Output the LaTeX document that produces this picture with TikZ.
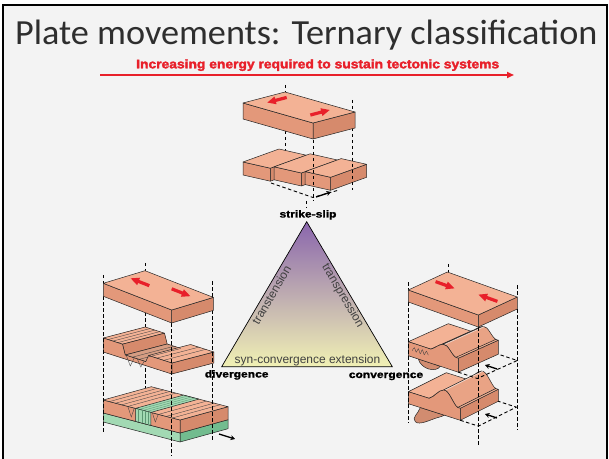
\documentclass[tikz,border=0pt]{standalone}
\usepackage{fontspec}
\setmainfont{Liberation Sans}
\newfontfamily\titlefont{Carlito}
\newfontfamily\heavyfont[BoldFeatures={FakeBold=2.2}]{Liberation Sans}
\newfontfamily\labfont[BoldFeatures={FakeBold=1.2}]{Liberation Sans}
\usepackage{graphicx}
\usetikzlibrary{arrows.meta}
\definecolor{topc}{HTML}{F3B295}
\definecolor{frontc}{HTML}{E3987A}
\definecolor{sidec}{HTML}{D68A6C}
\definecolor{ridgeL}{HTML}{F8C6AE}
\definecolor{ridgeR}{HTML}{E9A385}
\definecolor{arrred}{HTML}{E8202A}
\definecolor{greenc}{HTML}{A2D9B3}
\definecolor{greend}{HTML}{72BC8F}
\definecolor{triT}{HTML}{8A66AD}
\definecolor{triB}{HTML}{F1F1B4}
\definecolor{bg}{HTML}{F3F3F3}
\tikzset{
  face/.style={draw=black!85,line width=0.5bp,line join=round},
  fline/.style={draw=black!75,line width=0.35bp},
  dline/.style={draw=black,line width=0.9bp,dash pattern=on 3.5bp off 2.5bp},
  blackarr/.style={draw=black,line width=1.3bp,-{Stealth[length=4.5bp,width=5bp]}},
  redarr/.pic={\fill[arrred] (-10,-2) -- (1.5,-2) -- (1.5,-5) -- (10,0) -- (1.5,5) -- (1.5,2) -- (-10,2) -- cycle;},
  blab/.style={inner sep=0,anchor=base,font=\fontsize{11}{12}\selectfont\labfont\bfseries},
  rlab/.style={inner sep=0,font=\fontsize{12}{13}\selectfont,text=black!75}
}
% origin x,y ; long edge a ; short edge b ; thickness h
\newcommand{\slab}[7]{%
  \filldraw[face,fill=sidec] (#1+#3,#2+#4) -- ++(#5,#6) -- ++(0,#7) -- (#1+#3,#2+#4+#7) -- cycle;
  \filldraw[face,fill=frontc] (#1,#2) -- ++(#3,#4) -- ++(0,#7) -- (#1,#2+#7) -- cycle;
  \filldraw[face,fill=topc] (#1,#2) -- ++(#3,#4) -- ++(#5,#6) -- (#1+#5,#2+#6) -- cycle;
}
\newcommand{\blabtext}[1]{\scalebox{1.1}[0.92]{#1}}
\begin{document}
\begin{tikzpicture}[x=1bp,y=-1bp]
\useasboundingbox (0,0) rectangle (609,459);
\fill[white] (0,0) rectangle (609,459);
\fill[bg] (3,5) rectangle (607,459);
\draw[line width=2.5bp] (3,459) -- (3,5) -- (607,5) -- (607,459);

% title and energy arrow
\node[anchor=base west,inner sep=0,text=black!82] (title) at (15,45)
  {\resizebox{582bp}{24.5bp}{\titlefont Plate movements: Ternary classification}};
\node[anchor=base west,inner sep=0,text=arrred] (energy) at (136,68.3)
  {\resizebox{363bp}{9bp}{\heavyfont\bfseries Increasing energy required to sustain tectonic systems}};
\coordinate (ea) at (100,75);
\coordinate (eb) at (514,75);
\draw[arrred,line width=2bp,-{Triangle[length=7bp,width=6bp]}] (ea) -- (eb);

% ===== triangle =====
\coordinate (tA) at (306.7,221.7);
\coordinate (tL) at (221.7,366.7);
\coordinate (tR) at (392.3,366.7);
\shade[top color=triT,bottom color=triB,draw=black,line width=0.7bp] (tA) -- (tR) -- (tL) -- cycle;
\node[blab] (ss) at (308,217.5) {\blabtext{strike-slip}};
\node[blab] (dv) at (236.7,377.5) {\blabtext{divergence}};
\node[blab] (cv) at (386,378) {\blabtext{convergence}};
\node[rlab,anchor=base] (syn) at (307.5,363.5) {syn-convergence extension};
\node[rlab,rotate=59.6] (tt) at (271.5,295) {transtension};
\node[rlab,rotate=-59.6] (tp) at (342.6,295.8) {transpression};

% ===== strike-slip column =====
\draw[dline] (285,85) -- (285,92);
\draw[dline] (285,131) -- (285,157);
\slab{243}{162}{27.3}{6.2}{36}{-13}{13}
\slab{274.1}{166.8}{27.3}{6.2}{36}{-13}{13}
\slab{305.2}{171.6}{25.4}{5.7}{36}{-13}{13}
\draw[dline] (271,183) -- (313,197.5) -- (339,190);
\draw[blackarr] (316,197) -- (331,192);
\draw[dline] (313,140) -- (313,201);
\draw[dline] (306.7,201) -- (306.7,208);
\draw[dline] (352,100) -- (352,112);
\draw[dline] (352,128) -- (352,190);
\slab{243}{103}{70}{20}{42}{-11}{16}
\pic[rotate=194.7,yscale=.8] at (277,100) {redarr};
\pic[rotate=14.7,yscale=.8] at (320,112.5) {redarr};

% ===== divergence column =====
\draw[dline] (145,263) -- (145,271);
\draw[dline] (145,306) -- (145,330);
\draw[dline] (145,362) -- (145,392);
% bottom block with green base
\begin{scope}[shift={(103.3,400)}]
  \filldraw[face,fill=greend] (76.7,33) -- (124.7,19.7) -- (124.7,28.7) -- (76.7,42) -- cycle;
  \filldraw[face,fill=greenc] (0,13) -- (76.7,33) -- (76.7,42) -- (0,22) -- cycle;
  \slab{0}{0}{76.7}{20}{48}{-13.3}{13}
  \filldraw[face,fill=greenc] (32.2,8.4) -- (47.6,12.4) -- (95.6,-0.9) -- (80.2,-4.9) -- cycle;
  \filldraw[face,fill=greenc] (32.2,8.4) -- (47.6,12.4) -- (47.6,25.4) -- (32.2,21.4) -- cycle;
  \foreach \t in {0.47,0.52,0.57} \draw[fline,draw=greend!80!black] (76.7*\t,20*\t) -- ++(48,-13.3);
  \foreach \x in {35,38.5,42,45} \draw[fline,draw=greend!80!black] (\x,{20/76.7*\x}) -- ++(0,13);
  \foreach \t in {0.08,0.16,0.24,0.32,0.72,0.82,0.9} \draw[fline] (76.7*\t,20*\t) -- ++(48,-13.3);
  \draw[fline] (24.5,6.4) -- (28,17) -- (31,8.1);
  \draw[fline] (49,12.8) -- (52,22) -- (55,14.3);
\end{scope}
% middle rifted block
\begin{scope}[shift={(103.3,338)}]
  \fill[frontc] (0,0) -- (42,-11) -- (61.2,-4.8) -- (63.9,6) -- (84.5,12.6) -- (87.2,6.5) -- (110.5,14) -- (110.5,25) -- (68.5,36) -- (0,14) -- cycle;
  \filldraw[face,fill=sidec] (68.5,25) -- (110.5,14) -- (110.5,25) -- (68.5,36) -- cycle;
  \filldraw[face,fill=topc] (0,0) -- (19.2,6.2) -- (61.2,-4.8) -- (42,-11) -- cycle;
  \filldraw[face,fill=sidec] (19.2,6.2) -- (61.2,-4.8) -- (63.9,6) -- (21.9,17) -- cycle;
  \filldraw[face,fill=topc!88!black] (21.9,17) -- (63.9,6) -- (84.5,12.6) -- (42.5,23.6) -- cycle;
  \filldraw[face,fill=topc] (45.2,17.5) -- (68.5,25) -- (110.5,14) -- (87.2,6.5) -- cycle;
  \filldraw[face,fill=frontc] (0,0) -- (19.2,6.2) -- (21.9,17) -- (42.5,23.6) -- (45.2,17.5) -- (68.5,25) -- (68.5,36) -- (0,14) -- cycle;
  \foreach \t in {0.07,0.14,0.21} \draw[fline] (68.5*\t,22*\t) -- ++(42,-11);
  \foreach \t in {0.42,0.52} \draw[fline] (68.5*\t,22*\t+10) -- ++(42,-11);
  \foreach \t in {0.78,0.88} \draw[fline] (68.5*\t,22*\t+3) -- ++(42,-11);
  \draw[fline] (23,17.4) -- (27,28) -- (31,19.9);
  \draw[fline] (34,20.9) -- (37.5,29) -- (41,23.1);
\end{scope}
\draw[blackarr] (219,434) -- (235,439);
\draw[dline] (103.3,275) -- (103.3,283);
\draw[dline] (103.3,296) -- (103.3,432);
\draw[dline] (171.7,323) -- (171.7,456);
\draw[dline] (212.5,281) -- (212.5,297);
\draw[dline] (212.5,310) -- (212.5,440);
\slab{103.3}{283.3}{68.4}{26.7}{41.7}{-12.6}{13}
\pic[rotate=158.5,yscale=.8] at (140,282) {redarr};
\pic[rotate=-21.5,yscale=.8] at (181,292.5) {redarr};

% ===== convergence column =====
\draw[dline] (448,264) -- (448,272);
% bottom block
\begin{scope}[shift={(408.3,391.7)}]
  \filldraw[face,fill=frontc!92!black] (12,15.8) .. controls (10,22) and (3,26) .. (7,30) .. controls (11,34) and (22,28) .. (29,26) .. controls (33,25) and (35,24) .. (36,23.5) -- cycle;
  \filldraw[face,fill=sidec] (52,16.6) -- (90,-2.4) -- (90,9.6) -- (52,28.6) -- cycle;
  \filldraw[face,fill=topc] (0,0) -- (52,16.6) -- (90,-2.4) -- (38,-19) -- cycle;
  \filldraw[face,fill=ridgeL] (20.8,6.6) .. controls (26,5.5) and (30,-1.7) .. (35.4,-1.7) -- (73.4,-20.7) .. controls (68,-20.7) and (64,-13.5) .. (58.8,-12.4) -- cycle;
  \filldraw[face,fill=ridgeR] (35.4,-1.7) .. controls (41,-1.7) and (45,13) .. (49.4,15.8) -- (87.4,-3.2) .. controls (83,-6) and (79,-20.7) .. (73.4,-20.7) -- cycle;
  \draw[white,line width=.8bp,opacity=.6] (36.5,-1.5) -- (74.5,-20.5);
  \filldraw[face,fill=frontc] (0,0) -- (20.8,6.6) .. controls (26,5.5) and (30,-1.7) .. (35.4,-1.7) .. controls (41,-1.7) and (45,13) .. (49.4,15.8) -- (52,16.6) -- (52,28.6) -- (0,12) -- cycle;
\end{scope}
\draw[dline] (460.3,420.3) -- (478.3,426.1) -- (516.3,407.1) -- (498.3,401.3);
\draw[blackarr] (497,418) -- (485,414);
% middle block
\begin{scope}[shift={(408.3,341.7)}]
  \filldraw[face,fill=frontc!92!black] (10,17.3) .. controls (13,28) and (28,31) .. (32,24.6) -- cycle;
  \filldraw[face,fill=sidec] (50,16.5) -- (90,-1.5) -- (90,12.5) -- (50,30.5) -- cycle;
  \filldraw[face,fill=topc] (0,0) -- (50,16.5) -- (90,-1.5) -- (40,-18) -- cycle;
  \filldraw[face,fill=ridgeL] (22.5,7.4) .. controls (27,6.5) and (30,2.6) .. (35,2.6) -- (75,-15.4) .. controls (70,-15.4) and (67,-11.5) .. (62.5,-10.6) -- cycle;
  \filldraw[face,fill=ridgeR] (35,2.6) .. controls (40,2.6) and (43,13) .. (47.5,15.7) -- (87.5,-2.3) .. controls (83,-5) and (80,-15.4) .. (75,-15.4) -- cycle;
  \draw[white,line width=.8bp,opacity=.6] (36,2.8) -- (76,-15.2);
  \filldraw[face,fill=frontc] (0,0) -- (22.5,7.4) .. controls (27,6.5) and (30,2.6) .. (35,2.6) .. controls (40,2.6) and (43,13) .. (47.5,15.7) -- (50,16.5) -- (50,30.5) -- (0,14) -- cycle;
  \draw[fline] plot[smooth] coordinates {(4,9) (6,6) (8,10.5) (10,7) (12,12) (14,8) (16,13) (18,9.5) (20,13.5)};
\end{scope}
\draw[dline] (458.3,372.2) -- (477.3,378.5) -- (517.3,360.5) -- (498.3,354.2);
\draw[blackarr] (497,369) -- (485,365);
\draw[dline] (408.3,282) -- (408.3,290);
\draw[dline] (408.3,302) -- (408.3,423);
\draw[dline] (478.3,327) -- (478.3,447);
\draw[dline] (517,285) -- (517,297);
\draw[dline] (517,309) -- (517,430);
\slab{408.3}{290}{70}{25}{39}{-18}{12}
\pic[rotate=-19.7,yscale=.8] at (445,285) {redarr};
\pic[rotate=160.3,yscale=.8] at (488,298) {redarr};
\end{tikzpicture}
\end{document}
